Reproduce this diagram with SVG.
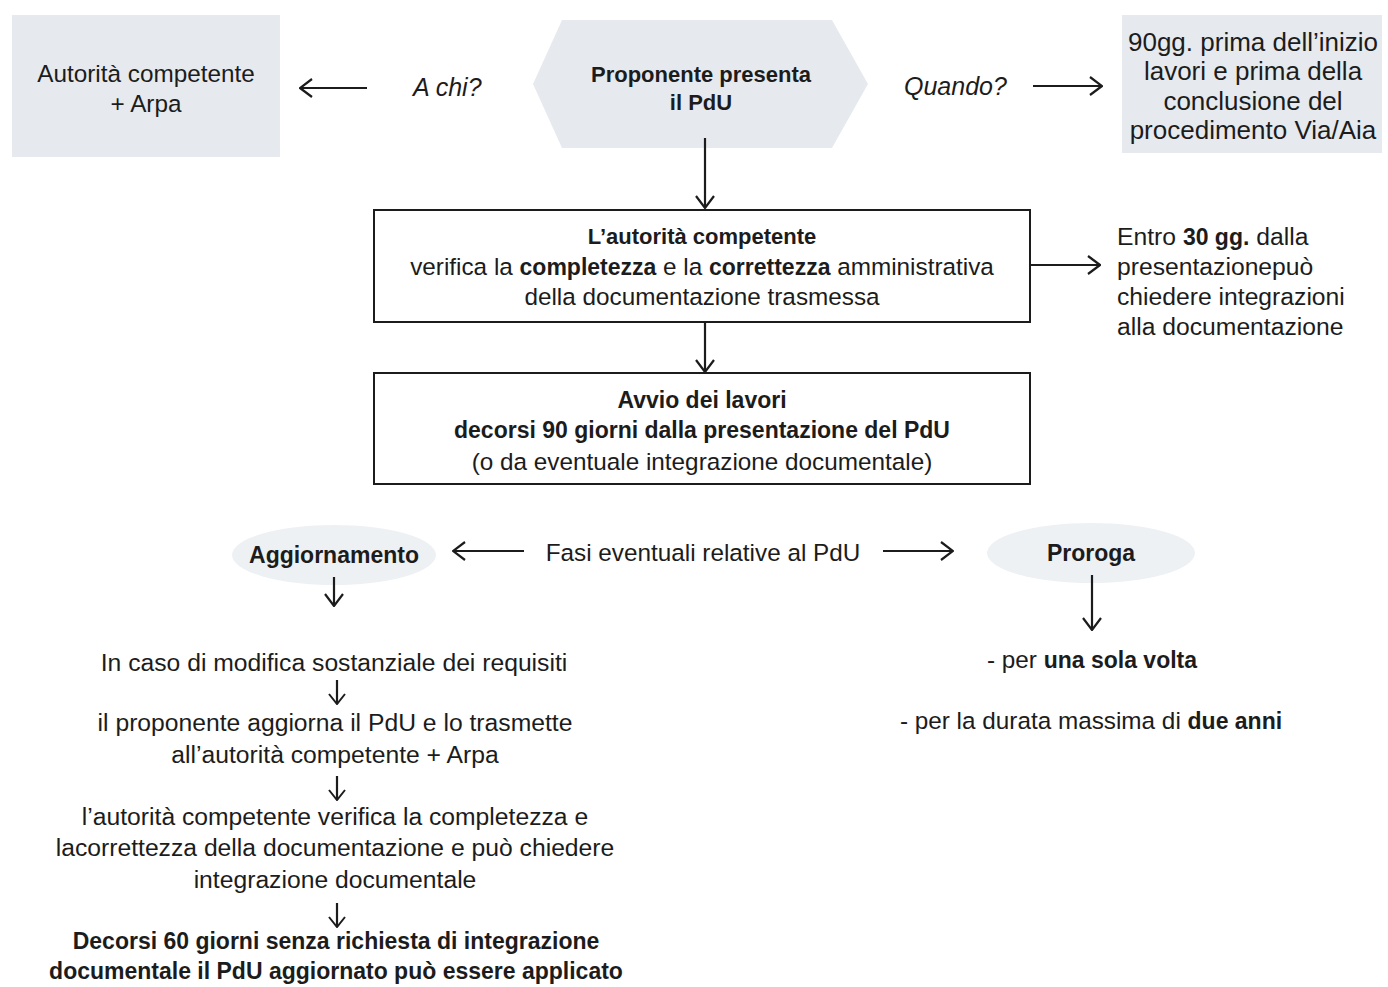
<svg xmlns="http://www.w3.org/2000/svg" width="1388" height="987" viewBox="0 0 1388 987">
<style>
  text { font-family: "Liberation Sans", Arial, sans-serif; font-size: 24.3px; fill: #1c1c1c; }
  .c { text-anchor: middle; }
  .b { font-weight: bold; font-size: 23px; }
  .b22 { font-weight: bold; font-size: 22px; }
  .i { font-style: italic; font-size: 25px; }
  .big-t { font-size: 26px; }
  .lc { font-size: 24.7px; }
  .shade { fill: #e6eaee; stroke: none; }
  .ell { fill: #eef1f4; stroke: none; }
  .box { fill: #ffffff; stroke: #1c1c1c; stroke-width: 2; }
  .conn line { stroke: #1c1c1c; stroke-width: 2.2; fill: none; }
  .big { marker-end: url(#ah); }
  .small { marker-end: url(#ahs); }
</style>
<defs>
  <marker id="ah" viewBox="0 0 14 20" refX="13" refY="10" markerWidth="14" markerHeight="20" markerUnits="userSpaceOnUse" orient="auto">
    <path d="M1,1 L13,10 L1,19" fill="none" stroke="#1c1c1c" stroke-width="2.2"/>
  </marker>
  <marker id="ahs" viewBox="0 0 12 18" refX="11" refY="9" markerWidth="12" markerHeight="18" markerUnits="userSpaceOnUse" orient="auto">
    <path d="M1,1 L11,9 L1,17" fill="none" stroke="#1c1c1c" stroke-width="2"/>
  </marker>
</defs>
<rect width="1388" height="987" fill="#ffffff"/>

<g id="node-autorita">
  <rect class="shade" x="12" y="15" width="268" height="142"/>
  <text class="c" x="146" y="82">Autorità competente</text>
  <text class="c" x="146" y="112">+ Arpa</text>
</g>

<g id="label-achi">
  <text class="i" x="413" y="96">A chi?</text>
</g>

<g id="node-proponente">
  <polygon class="shade" points="533,84 562,20 832,20 868,84 832,148 562,148"/>
  <text class="c b22" x="701" y="82">Proponente presenta</text>
  <text class="c b22" x="701" y="110">il PdU</text>
</g>

<g id="label-quando">
  <text class="i" x="904" y="95">Quando?</text>
</g>

<g id="node-90gg">
  <rect class="shade" x="1122" y="15" width="260" height="138"/>
  <text class="c big-t" x="1253" y="51">90gg. prima dell’inizio</text>
  <text class="c big-t" x="1253" y="80">lavori e prima della</text>
  <text class="c big-t" x="1253" y="110">conclusione del</text>
  <text class="c big-t" x="1253" y="139">procedimento Via/Aia</text>
</g>

<g id="node-verifica">
  <rect class="box" x="374" y="210" width="656" height="112"/>
  <text class="c b22" x="702" y="244">L’autorità competente</text>
  <text class="c" x="702" y="275">verifica la <tspan class="b">completezza</tspan> e la <tspan class="b">correttezza</tspan> amministrativa</text>
  <text class="c" x="702" y="305">della documentazione trasmessa</text>
</g>

<g id="node-entro">
  <text class="lc" x="1117" y="245">Entro <tspan class="b">30 gg.</tspan> dalla</text>
  <text class="lc" x="1117" y="275">presentazionepuò</text>
  <text class="lc" x="1117" y="305">chiedere integrazioni</text>
  <text class="lc" x="1117" y="335">alla documentazione</text>
</g>

<g id="node-avvio">
  <rect class="box" x="374" y="373" width="656" height="111"/>
  <text class="c b" x="702" y="408">Avvio dei lavori</text>
  <text class="c b" x="702" y="438">decorsi 90 giorni dalla presentazione del PdU</text>
  <text class="c" x="702" y="470">(o da eventuale integrazione documentale)</text>
</g>

<g id="node-aggiornamento">
  <ellipse class="ell" cx="334" cy="555" rx="102" ry="30"/>
  <text class="c b" x="334" y="563">Aggiornamento</text>
</g>

<g id="label-fasi">
  <text class="c" x="703" y="561">Fasi eventuali relative al PdU</text>
</g>

<g id="node-proroga">
  <ellipse class="ell" cx="1091" cy="553" rx="104" ry="30"/>
  <text class="c b" x="1091" y="561">Proroga</text>
</g>

<g id="node-aggiornamento-steps">
  <text class="c lc" x="334" y="671">In caso di modifica sostanziale dei requisiti</text>
  <text class="c lc" x="335" y="731">il proponente aggiorna il PdU e lo trasmette</text>
  <text class="c lc" x="335" y="763">all’autorità competente + Arpa</text>
  <text class="c lc" x="335" y="825">l’autorità competente verifica la completezza e</text>
  <text class="c lc" x="335" y="856">lacorrettezza della documentazione e può chiedere</text>
  <text class="c lc" x="335" y="888">integrazione documentale</text>
  <text class="c b" x="336" y="949">Decorsi 60 giorni senza richiesta di integrazione</text>
  <text class="c b" x="336" y="979">documentale il PdU aggiornato può essere applicato</text>
</g>

<g id="node-proroga-steps">
  <text class="c" x="1092" y="668">- per <tspan class="b">una sola volta</tspan></text>
  <text class="c" x="1091" y="729">- per la durata massima di <tspan class="b">due anni</tspan></text>
</g>

<g id="connectors" class="conn">
  <line class="big" x1="367" y1="88" x2="300" y2="88"/>
  <line class="big" x1="1033" y1="86" x2="1102" y2="86"/>
  <line class="big" x1="705" y1="138" x2="705" y2="208"/>
  <line class="big" x1="1030" y1="265" x2="1100" y2="265"/>
  <line class="big" x1="705" y1="322" x2="705" y2="372"/>
  <line class="big" x1="524" y1="551" x2="453" y2="551"/>
  <line class="big" x1="883" y1="551" x2="953" y2="551"/>
  <line class="big" x1="334" y1="577" x2="334" y2="606"/>
  <line class="big" x1="1092" y1="575" x2="1092" y2="630"/>
  <line class="small" x1="337" y1="680" x2="337" y2="704"/>
  <line class="small" x1="337" y1="776" x2="337" y2="800"/>
  <line class="small" x1="337" y1="903" x2="337" y2="927"/>
</g>
</svg>
